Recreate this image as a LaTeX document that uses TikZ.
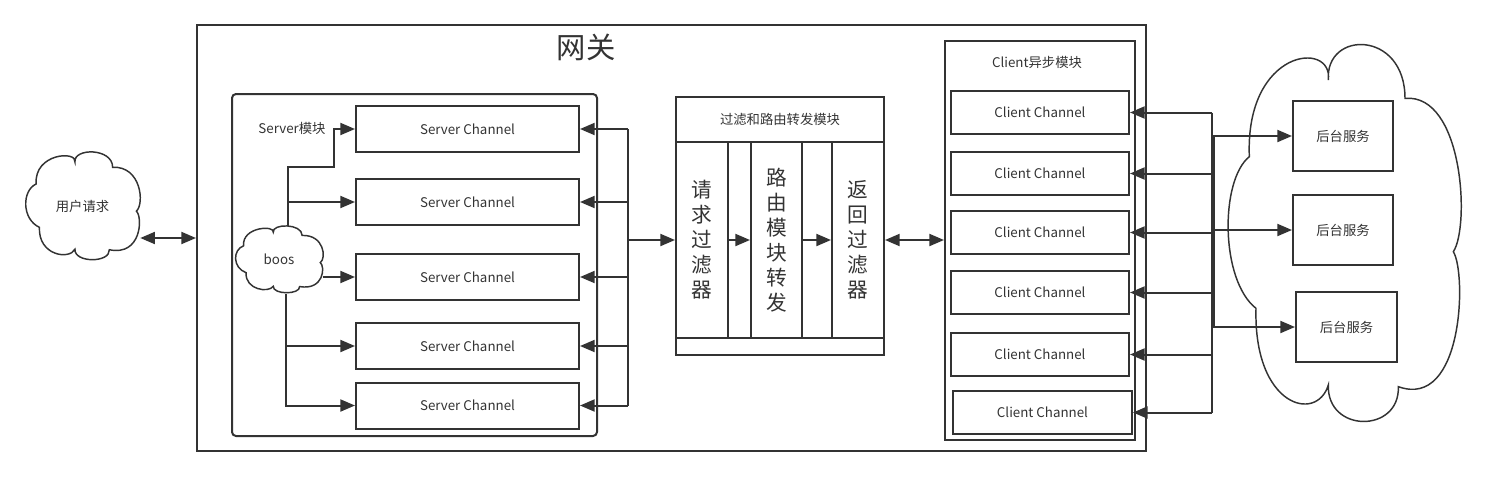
\documentclass[tikz,border=0pt]{standalone}
\usepackage{fontspec}
\setmainfont{Noto Sans CJK SC}
\usetikzlibrary{arrows.meta,calc}
\definecolor{lc}{HTML}{333333}
\definecolor{tc}{HTML}{333333}
\newcommand{\pxu}{0.75pt}
\newcommand{\fs}{\fontsize{10}{12}\selectfont}
\newcommand{\drawcloud}[1]{%
  \begin{scope}[#1]
    \draw[cl] (148,350) .. controls (135,25) and (400,0) .. (385,120)
      .. controls (375,-30) and (615,-30) .. (615,175)
      .. controls (790,160) and (810,560) .. (760,635)
      .. controls (800,700) and (790,1110) .. (595,1040)
      .. controls (600,1180) and (380,1180) .. (385,1035)
      .. controls (350,1150) and (160,1100) .. (168,805)
      .. controls (60,720) and (60,420) .. (148,350) -- cycle;
  \end{scope}}
\tikzset{
  ln/.style={draw=lc, line width=1.5pt},
  cl/.style={draw=lc, line width=1.1pt},
  arr/.style={ln, -{Triangle[length=11pt,width=9pt]}},
  dbl/.style={ln, {Triangle[length=11pt,width=9pt]}-{Triangle[length=11pt,width=9pt]}},
  txt/.style={text=tc, font=\fs, inner sep=0pt},
  boxn/.style={ln, txt, rectangle, minimum width=#1*\pxu},
  boxn/.default=100,
}
\begin{document}
\begin{tikzpicture}[x=0.75pt,y=-0.75pt]
\useasboundingbox (0,0) rectangle (1490,476);

% gateway
\node[ln, rectangle, minimum width=949*\pxu, minimum height=426*\pxu] (gw) at (671.5,238) {};
\node[txt, font=\fontsize{22}{26}\selectfont] (title) at (586,47) {网关};

% user cloud
\drawcloud{shift={(11.9,150.6)}, xscale=0.1638, yscale=0.0953}
\node[txt, minimum width=115*\pxu, minimum height=108*\pxu] (user) at (82.5,206) {用户请求};

% server module
\node[ln, rectangle, rounded corners=3pt, minimum width=365*\pxu, minimum height=342*\pxu] (sm) at (414.5,265) {};
\node[txt] (smlab) at (292,128) {Server模块};
\foreach \i/\y in {1/129,2/202,3/277,4/346,5/405.5}{
  \node[boxn=223, minimum height=46*\pxu] (s\i) at (467.5,\y) {Server Channel};
}

% boos cloud
\drawcloud{shift={(225,225.1)}, xscale=0.1254, yscale=0.0591}
\node[txt, minimum width=88*\pxu, minimum height=67*\pxu] (boos) at (279,259.5) {boos};

% filter module
\node[boxn=208, minimum height=258*\pxu] (fm) at (780,226) {};
\node[boxn=208, minimum height=45*\pxu] (fh) at (780,119.5) {过滤和路由转发模块};
\node[boxn=52, minimum height=196*\pxu, align=center, font=\fontsize{15.5}{18.75}\selectfont] (reqf) at (702,240) {请\\求\\过\\滤\\器};
\node[boxn=23, minimum height=196*\pxu] (gap1) at (739.5,240) {};
\node[boxn=51, minimum height=196*\pxu, align=center, font=\fontsize{15.5}{18.75}\selectfont] (route) at (776.5,240) {路\\由\\模\\块\\转\\发};
\node[boxn=30, minimum height=196*\pxu] (gap2) at (817,240) {};
\node[boxn=52, minimum height=196*\pxu, align=center, font=\fontsize{15.5}{18.75}\selectfont] (retf) at (858,240) {返\\回\\过\\滤\\器};
\node[boxn=208, minimum height=17*\pxu] (fb) at (780,346.5) {};

% client module
\node[boxn=190, minimum height=399*\pxu] (cm) at (1040,240.5) {};
\node[txt] (cmlab) at (1037,62) {Client异步模块};
\foreach \i/\y in {1/112.5,2/173.5,3/232.5,4/292.5,5/354.5}{
  \node[boxn=178, minimum height=43*\pxu] (c\i) at (1040,\y) {Client Channel};
}
\node[boxn=179, minimum height=43*\pxu] (c6) at (1042.5,412.5) {Client Channel};

% backend cloud
\drawcloud{shift={(1200,40)}, xscale=1/3, yscale=1/3}
\node[boxn=100, minimum height=70*\pxu] (b1) at (1343,136) {后台服务};
\node[boxn=100, minimum height=70*\pxu] (b2) at (1343,230) {后台服务};
\node[boxn=101, minimum height=70*\pxu] (b3) at (1346.5,327) {后台服务};

% connectors: user <-> gateway
\draw[dbl] (user.east |- gw.west) -- (gw.west);

% boos -> server channels
\coordinate (bT) at (288,226);
\coordinate (bB) at (286,294);
\coordinate (j1) at (334,167);
\draw[arr] (bT) |- (j1) |- (s1.west);
\draw[arr] (bT |- s2.west) -- (s2.west);
\draw[arr] (boos.east |- s3.west) -- (s3.west);
\draw[arr] (bB) |- (s5.west);
\draw[arr] (bB |- s4.west) -- (s4.west);

% server bus
\coordinate (sb) at (628,0);
\draw[ln] (sb |- s1.east) -- (sb |- s5.east);
\foreach \i in {1,...,5}{ \draw[arr] (sb |- s\i.east) -- (s\i.east); }
\draw[arr] (sb |- reqf.west) -- (reqf.west);

% filter internals
\draw[arr] (reqf.east) -- (route.west);
\draw[arr] (route.east) -- (retf.west);
\draw[dbl] (retf.east) -- (retf.east -| cm.west);

% client bus
\coordinate (cb) at (1212,0);
\draw[ln] (cb |- c1.east) -- (cb |- c6.east);
\foreach \i in {1,...,6}{ \draw[arr] (cb |- c\i.east) -- (c\i.east); }

% backend trunk
\coordinate (bt) at (1214,0);
\draw[ln] (bt |- b1.west) -- (bt |- b3.west);
\foreach \i in {1,2,3}{ \draw[arr] (cb |- b\i.west) -- (b\i.west); }
\end{tikzpicture}
\end{document}
